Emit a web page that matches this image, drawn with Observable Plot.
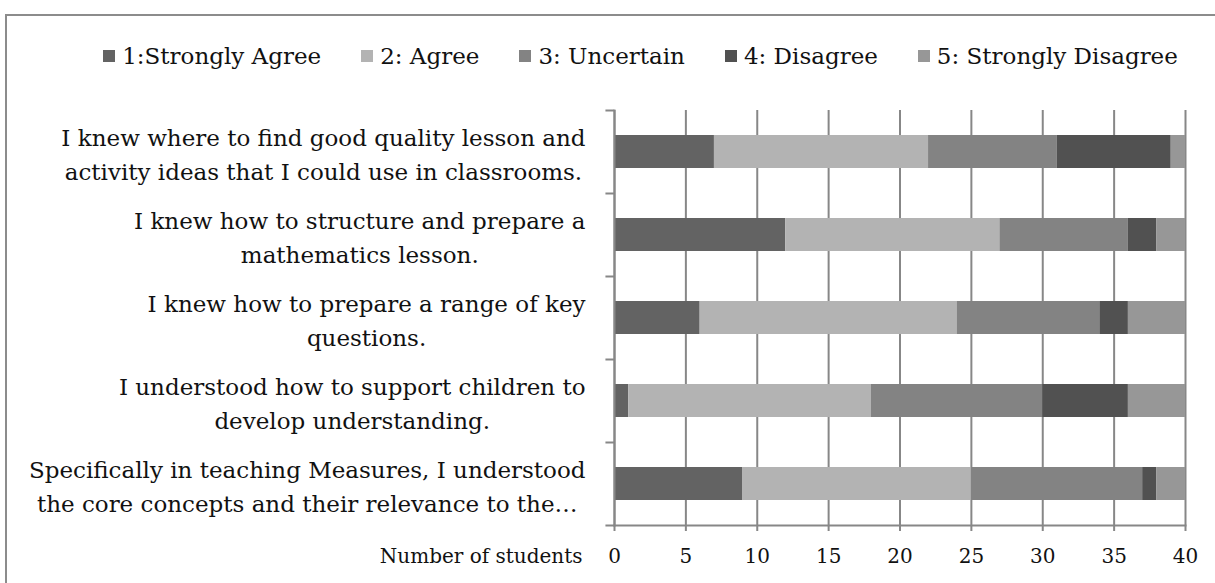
<!DOCTYPE html>
<html>
<head>
<meta charset="utf-8">
<script src="https://cdn.jsdelivr.net/npm/d3@7"></script>
<script src="https://cdn.jsdelivr.net/npm/@observablehq/plot@0.6"></script>
<style>
  html, body { margin: 0; padding: 0; background: #fff; overflow: hidden; }
  #wrap { position: relative; width: 1215px; height: 583px; font-family: "DejaVu Serif", serif; }
  #frame { position: absolute; left: 5px; top: 14px; width: 1230px; height: 600px; border: 2px solid #8c8c8c; box-sizing: border-box; }
  #legend { position: absolute; top: 43px; left: 33px; width: 1215px; display: flex; justify-content: center; font-size: 23px; color: #111; }
  #legend .item { display: flex; align-items: center; margin: 0 20px; }
  #legend .sw { width: 12px; height: 12px; margin-right: 7px; }
  #chart { position: absolute; left: 0; top: 0; }
</style>
</head>
<body>
<div id="wrap">
  <div id="frame"></div>
  <div id="legend"></div>
  <div id="chart"></div>
</div>
<script>
const questions = [
  "I knew where to find good quality lesson and\nactivity ideas that I could use in classrooms.",
  "I knew how to structure and prepare a\nmathematics lesson.",
  "I knew how to prepare a range of key\nquestions.",
  "I understood how to support children to\ndevelop understanding.",
  "Specifically in teaching Measures, I understood\nthe core concepts and their relevance to the…"
];
const levels = ["1:Strongly Agree", "2: Agree", "3: Uncertain", "4: Disagree", "5: Strongly Disagree"];
const colors = ["#636363", "#b3b3b3", "#838383", "#515151", "#979797"];
const stronglyAgree = [7, 12, 6, 1, 9];
const agree = [15, 15, 18, 17, 16];
const uncertain = [9, 9, 10, 12, 12];
const disagree = [8, 2, 2, 6, 1];
const stronglyDisagree = [1, 2, 4, 4, 2];
const xTicks = [0, 5, 10, 15, 20, 25, 30, 35, 40];
const xLabel = "Number of students";

const series = [stronglyAgree, agree, uncertain, disagree, stronglyDisagree];
const rows = [];
questions.forEach((q, i) => {
  levels.forEach((lv, j) => rows.push({q, level: lv, n: series[j][i]}));
});

// legend
const legendEl = document.getElementById("legend");
levels.forEach((lv, j) => {
  const it = document.createElement("div");
  it.className = "item";
  const sw = document.createElement("div");
  sw.className = "sw";
  sw.style.background = colors[j];
  const t = document.createElement("span");
  t.textContent = lv;
  it.appendChild(sw); it.appendChild(t);
  legendEl.appendChild(it);
});

const labelFont = 23;
const ctx = document.createElement("canvas").getContext("2d");
ctx.font = `${labelFont}px "DejaVu Serif"`;
const blockWidth = q => Math.max(...q.split("\n").map(s => ctx.measureText(s).width));

const mTop = 110, mBottom = 58, H = 583;
const step = (H - mTop - mBottom) / questions.length;
const lastQ = questions[questions.length - 1];
const gap = 29;

const chart = Plot.plot({
  width: 1215,
  height: H,
  marginLeft: 614,
  marginRight: 30,
  marginTop: mTop,
  marginBottom: mBottom,
  style: {fontFamily: "DejaVu Serif, serif", fontSize: "20px", color: "#111", background: "transparent", overflow: "visible"},
  x: {domain: [0, 40], ticks: xTicks, label: null},
  y: {domain: questions, paddingInner: 0.6, paddingOuter: 0.3, label: null, axis: null},
  color: {domain: levels, range: colors},
  marks: [
    Plot.ruleX(xTicks, {stroke: "#878787", strokeWidth: 2}),
    Plot.barX(rows, Plot.stackX({y: "q", x: "n", fill: "level", order: null, inset: 0})),
    Plot.ruleY(questions, {y: d => d, dy: -step / 2, x1: -0.6, x2: 0, stroke: "#878787", strokeWidth: 2, clip: false}),
    Plot.ruleY([lastQ], {y: d => d, dy: step / 2, x1: -0.6, x2: 0, stroke: "#878787", strokeWidth: 2, clip: false}),
    Plot.frame({anchor: "bottom", stroke: "#878787", strokeWidth: 2, strokeOpacity: 1}),
    Plot.frame({anchor: "left", stroke: "#878787", strokeWidth: 2, strokeOpacity: 1}),
    Plot.axisX({ticks: xTicks, tickSize: 6, tickPadding: 17, stroke: "#878787", strokeWidth: 2, label: null, fontSize: 20}),
    ...questions.map(q => Plot.text([q], {
      y: d => d, text: d => d, frameAnchor: "left",
      dx: -(gap + blockWidth(q) / 2), textAnchor: "middle",
      lineHeight: 1.5, fontSize: labelFont, fill: "#111"
    })),
    Plot.text([xLabel], {frameAnchor: "bottom-left", text: d => d, dx: -32, dy: 37, textAnchor: "end", fontSize: 20})
  ]
});
document.getElementById("chart").appendChild(chart);
</script>
</body>
</html>
